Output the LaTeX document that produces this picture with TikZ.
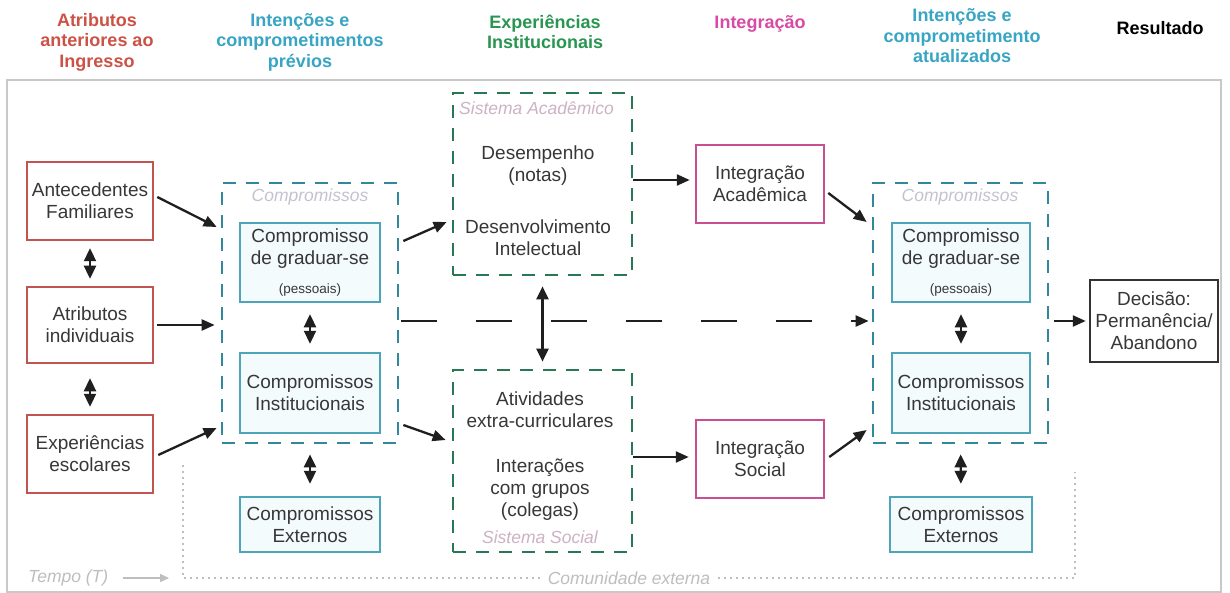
\documentclass[tikz,border=0pt]{standalone}
\usepackage{fontspec}
\setmainfont{Liberation Sans}
\usetikzlibrary{arrows.meta,calc}
\definecolor{cred}{RGB}{192,84,80}
\definecolor{hred}{RGB}{205,82,70}
\definecolor{cteal}{RGB}{78,165,185}
\definecolor{tfill}{RGB}{244,251,253}
\definecolor{hteal}{RGB}{55,165,195}
\definecolor{cdteal}{RGB}{50,135,155}
\definecolor{cgreen}{RGB}{40,120,85}
\definecolor{hgreen}{RGB}{40,150,80}
\definecolor{cmag}{RGB}{200,80,145}
\definecolor{hmag}{RGB}{215,75,165}
\definecolor{ctext}{RGB}{55,55,55}
\definecolor{cglab}{RGB}{195,195,208}
\definecolor{cplab}{RGB}{205,178,196}
\definecolor{cframe}{RGB}{200,200,200}
\definecolor{cdot}{RGB}{190,190,190}
\newcommand\mainfs{\fontsize{19}{22}\selectfont}
\newcommand\hdrfs{\fontsize{18}{20.5}\selectfont}
\newcommand\lblfs{\fontsize{17.5}{20}\selectfont}
\newcommand\smfs{\fontsize{13.5}{15}\selectfont}
\tikzset{
  box/.style={line width=2.5pt, minimum width=126pt, minimum height=78pt, inner sep=1pt, align=center, font=\mainfs, text=ctext},
  redbox/.style={box, draw=cred, fill=white},
  tealbox/.style={box, draw=cteal, fill=tfill, minimum width=140pt},
  magbox/.style={box, draw=cmag, fill=white, minimum width=128pt},
  blkbox/.style={box, draw=black!80, fill=white, minimum width=128pt, minimum height=82pt},
  dashbox/.style={line width=2.7pt, dash pattern=on 13pt off 10pt, inner sep=0pt},
  tdash/.style={dashbox, draw=cdteal, minimum width=176pt, minimum height=260pt},
  gdash/.style={dashbox, draw=cgreen, minimum width=179pt, minimum height=182pt},
  txt/.style={align=center, font=\mainfs, text=ctext, inner sep=0pt},
  hdr/.style={align=center, font=\hdrfs\bfseries, inner sep=0pt},
  glab/.style={font=\lblfs\itshape, text=cglab, inner sep=0pt},
  plab/.style={font=\lblfs\itshape, text=cplab, inner sep=0pt},
  arr/.style={-{Triangle[length=13pt,width=11pt]}, line width=2.3pt, draw=black!88},
  darr/.style={{Triangle[length=13pt,width=12pt]}-{Triangle[length=13pt,width=12pt]}, line width=2.3pt, draw=black!88},
  dotline/.style={draw=cdot, line width=1.8pt, dash pattern=on 1.6pt off 4.4pt},
  garr/.style={-{Triangle[length=9pt,width=8pt]}, line width=1.5pt, draw=cdot}
}
\begin{document}
\begin{tikzpicture}[x=1pt,y=-1pt]
\useasboundingbox (0,0) rectangle (1230,593);
\fill[white] (0,0) rectangle (1230,593);
\draw[cframe, line width=1.5pt] (7,80) rectangle (1221,592);

% headers
\node[hdr, text=hred] (h1) at (97,42) {Atributos\\anteriores ao\\Ingresso};
\node[hdr, text=hteal] (h2) at (300,42) {Intenções e\\comprometimentos\\prévios};
\node[hdr, text=hgreen] (h3) at (545,32) {Experiências\\Institucionais};
\node[hdr, text=hmag] (h4) at (760,24) {Integração};
\node[hdr, text=hteal] (h5) at (962,36) {Intenções e\\comprometimento\\atualizados};
\node[hdr, text=black] (h6) at (1160,28) {Resultado};

% community dotted line
\coordinate (cm1) at (183,465);
\coordinate (cm2) at (183,578);
\coordinate (cm3) at (1075,578);
\coordinate (cm4) at (1075,472);
\draw[dotline] (cm1) -- (cm2) -- node[fill=white, inner xsep=4pt, inner ysep=2pt, font=\lblfs\itshape, text=cdot] (comm) {Comunidade externa} (cm3) -- (cm4);
\node[glab, text=cdot, anchor=west] (tempo) at (28,578) {Tempo (T)};
\draw[garr] ([xshift=15pt]tempo.east) -- ([xshift=-14pt]cm2);

% left column
\node[redbox] (ant) at (90,201) {Antecedentes\\Familiares};
\node[redbox, minimum height=76pt] (atr) at (90,325) {Atributos\\individuais};
\node[redbox] (exp) at (90,454) {Experiências\\escolares};

% left commitments
\node[tdash] (cmpL) at (310,313) {};
\node[glab] (cmpLlab) at (310,197) {Compromissos};
\node[tealbox, minimum height=79pt] (gradL) at (310,262.5) {Compromisso\\de graduar-se\\[7pt]{\smfs(pessoais)}};
\node[tealbox, minimum height=80pt] (instL) at (310,393) {Compromissos\\Institucionais};
\node[tealbox, minimum height=55pt] (extL) at (310,524.5) {Compromissos\\Externos};

% institutional experiences
\node[gdash] (acad) at (542.5,184) {};
\node[plab, anchor=west] (acadlab) at (459,108) {Sistema Acadêmico};
\node[txt] (desemp) at (538,166) {Desempenho\\(notas)};
\node[txt] (desenv) at (538,238) {Desenvolvimento\\Intelectual};
\node[gdash] (soc) at (542.5,461) {};
\node[txt] (ativ) at (540,410) {Atividades\\extra-curriculares};
\node[txt] (inter) at (540,490) {Interações\\com grupos\\(colegas)};
\node[plab] (soclab) at (540,537) {Sistema Social};

% integration
\node[magbox] (intA) at (760,184) {Integração\\Acadêmica};
\node[magbox] (intS) at (760,459) {Integração\\Social};

% right commitments
\node[tdash, minimum width=175pt] (cmpR) at (960.5,313) {};
\node[glab] (cmpRlab) at (960,197) {Compromissos};
\node[tealbox, minimum width=138pt, minimum height=79pt] (gradR) at (961,262.5) {Compromisso\\de graduar-se\\[7pt]{\smfs(pessoais)}};
\node[tealbox, minimum width=138pt, minimum height=80pt] (instR) at (961,393) {Compromissos\\Institucionais};
\node[tealbox, minimum width=142pt, minimum height=55pt] (extR) at (961,524.5) {Compromissos\\Externos};

% decision
\node[blkbox] (dec) at (1154,321) {Decisão:\\Permanência/\\Abandono};

% arrows
\draw[arr] ([xshift=3pt,yshift=4pt]ant.east) -- ([xshift=-4pt,yshift=86pt]cmpL.west);
\draw[arr, shorten >=6pt] ([xshift=3pt]atr.east) -- (cmpL.west |- atr.east);
\draw[arr] ([xshift=4pt,yshift=-1pt]exp.east) -- ([xshift=-4pt,yshift=-115pt]cmpL.west);
\draw[arr] ([xshift=4pt,yshift=72pt]cmpL.east) -- ([xshift=-5pt,yshift=-38pt]acad.west);
\draw[arr] ([xshift=4pt,yshift=-112pt]cmpL.east) -- ([xshift=-6pt,yshift=21pt]soc.west);
\draw[arr] ([yshift=4pt]acad.east) -- ([xshift=-5pt,yshift=4pt]intA.west);
\draw[arr] ([yshift=4pt]soc.east) -- ([xshift=-6pt,yshift=2pt]intS.west);
\draw[arr] ([xshift=3pt,yshift=-9pt]intA.east) -- ([xshift=-5pt,yshift=91pt]cmpR.west);
\draw[arr] ([xshift=4pt,yshift=2pt]intS.east) -- ([xshift=-5pt,yshift=-117pt]cmpR.west);
\draw[arr, dash pattern=on 36pt off 39pt] ([xshift=2pt,yshift=-8pt]cmpL.east) -- ([xshift=-3pt,yshift=-8pt]cmpR.west);
\draw[arr] ([xshift=5pt,yshift=-8pt]cmpR.east) -- ([xshift=-3pt]dec.west);

% double arrows
\draw[darr, shorten <=7pt, shorten >=7pt] (ant.south) -- (atr.north);
\draw[darr, shorten <=14pt, shorten >=7pt] (atr.south) -- (exp.north);
\draw[darr, shorten <=11pt, shorten >=8pt] (gradL.south) -- (instL.north);
\draw[darr, shorten <=10pt, shorten >=12pt] (cmpL.south) -- (extL.north);
\draw[darr, shorten <=10pt, shorten >=7pt] (acad.south) -- (soc.north);
\draw[darr, shorten <=11pt, shorten >=8pt] (gradR.south) -- (instR.north);
\draw[darr, shorten <=10pt, shorten >=12pt] (cmpR.south) -- (extR.north);
\end{tikzpicture}
\end{document}
